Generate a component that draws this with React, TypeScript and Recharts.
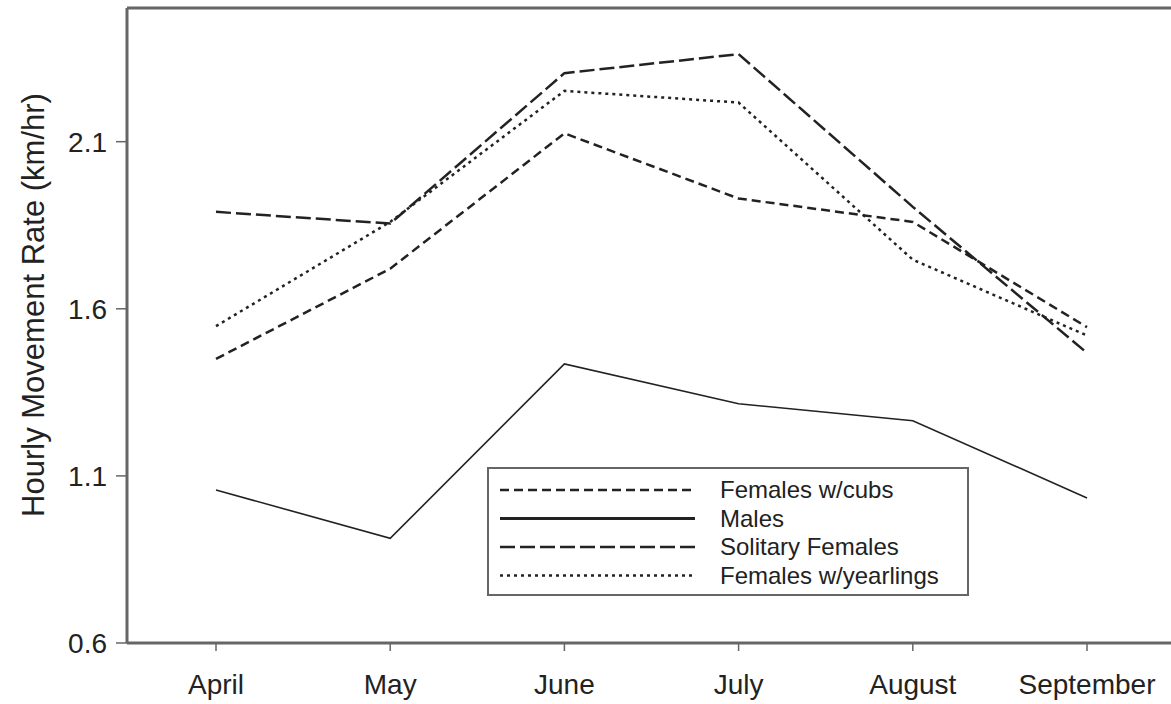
import React from 'react';
import { LineChart, Line, XAxis, YAxis, Label, ReferenceLine } from 'recharts';

// months on the x axis
const months = ['April', 'May', 'June', 'July', 'August', 'September'];

// hourly movement rate (km/hr)
const femalesCubs = [1.45, 1.72, 2.125, 1.93, 1.86, 1.545];
const males = [1.058, 0.913, 1.435, 1.316, 1.265, 1.034];
const solitaryFemales = [1.89, 1.855, 2.305, 2.362, 1.905, 1.468];
const femalesYearlings = [1.548, 1.86, 2.252, 2.217, 1.747, 1.52];

const yTicks = [0.6, 1.1, 1.6, 2.1];
const yMax = 2.5;

const data = months.map((m, i) => ({
  month: m,
  cubs: femalesCubs[i],
  males: males[i],
  solitary: solitaryFemales[i],
  yearlings: femalesYearlings[i],
}));

const FONT = 'Arial, "Liberation Sans", sans-serif';
const INK = '#222';
const AXIS = '#666';

const seriesStyles = [
  { key: 'cubs', name: 'Females w/cubs', dash: '9 5', width: 2.5, legendWidth: 2.5 },
  { key: 'males', name: 'Males', dash: undefined, width: 1.6, legendWidth: 3 },
  { key: 'solitary', name: 'Solitary Females', dash: '15 5', width: 2.5, legendWidth: 2.5 },
  { key: 'yearlings', name: 'Females w/yearlings', dash: '3 4', width: 2.5, legendWidth: 2.5 },
];

// legend drawn as a plain overlay so it doesn't eat plot space
const LegendBox = () => (
  <div
    style={{
      position: 'absolute',
      left: 487,
      top: 467,
      border: `2px solid ${AXIS}`,
      background: '#fff',
      width: 478,
      height: 125,
    }}
  >
    <svg width={478} height={125} style={{ display: 'block' }}>
      {seriesStyles.map((s, i) => {
        const y = 21 + i * 28.5;
        return (
          <g key={s.key}>
            <line
              x1={11}
              x2={206}
              y1={y}
              y2={y}
              stroke={INK}
              strokeWidth={s.legendWidth}
              strokeDasharray={s.dash}
            />
            <text x={231} y={y} dy="0.35em" fontFamily={FONT} fontSize={24} fill={INK}>
              {s.name}
            </text>
          </g>
        );
      })}
    </svg>
  </div>
);

const YLabel = () => (
  <text
    x={33}
    y={305}
    transform="rotate(-90, 33, 305)"
    textAnchor="middle"
    dominantBaseline="central"
    fontFamily={FONT}
    fontSize={31}
    fill={INK}
  >
    Hourly Movement Rate (km/hr)
  </text>
);

const App = () => {
  return (
    <div style={{ position: 'absolute', left: 0, top: 0, width: 1171, height: 704, background: '#fff' }}>
      <LineChart
        width={1171}
        height={704}
        data={data}
        margin={{ top: 8, right: 0, bottom: 0, left: 0 }}
      >
        <XAxis
          dataKey="month"
          padding={{ left: 89, right: 84 }}
          axisLine={{ stroke: AXIS, strokeWidth: 3 }}
          tickLine={{ stroke: AXIS, strokeWidth: 1.5 }}
          tickSize={8}
          tickMargin={23}
          tick={{ fill: INK, fontFamily: FONT, fontSize: 28 }}
          interval={0}
          height={61}
        />
        <YAxis
          width={127}
          domain={[0.6, yMax]}
          ticks={yTicks}
          allowDataOverflow
          axisLine={{ stroke: AXIS, strokeWidth: 3 }}
          tickLine={{ stroke: AXIS, strokeWidth: 1.5 }}
          tickSize={11}
          tickMargin={9}
          tickFormatter={(v) => v.toFixed(1)}
          tick={{ fill: INK, fontFamily: FONT, fontSize: 28 }}
        >
          <Label content={<YLabel />} />
        </YAxis>
        {/* top frame line */}
        <ReferenceLine y={yMax} stroke={AXIS} strokeWidth={3} ifOverflow="visible" />
        {seriesStyles.map((s) => (
          <Line
            key={s.key}
            type="linear"
            dataKey={s.key}
            name={s.name}
            stroke={INK}
            strokeWidth={s.width}
            strokeDasharray={s.dash}
            dot={false}
            activeDot={false}
            isAnimationActive={false}
          />
        ))}
      </LineChart>
      <LegendBox />
    </div>
  );
};

export default App;
